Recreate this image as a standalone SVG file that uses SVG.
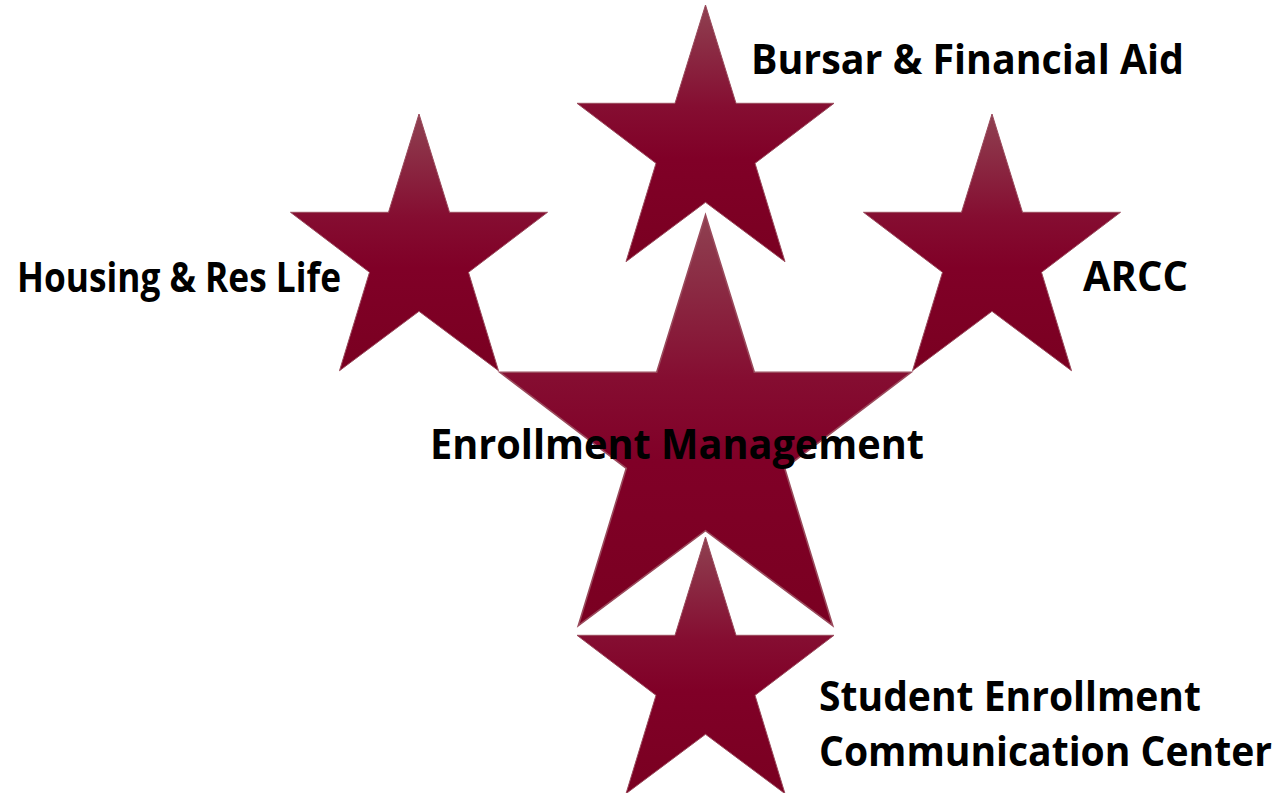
<svg xmlns="http://www.w3.org/2000/svg" xmlns:xlink="http://www.w3.org/1999/xlink" width="1284" height="793" viewBox="0 0 1284 793">
  <style>
    .star { fill: url(#starGrad); stroke: #9a4a5c; stroke-width: 1; vector-effect: non-scaling-stroke; }
    .lbl { font-family: "Open Sans", Lato, "Liberation Sans", sans-serif; font-weight: bold; font-size: 41px; fill: #000000; }
  </style>
  <defs>
    <linearGradient id="starGrad" x1="0" y1="0" x2="0" y2="1">
      <stop offset="0" stop-color="#8f4151"/>
      <stop offset="0.4" stop-color="#850d31"/>
      <stop offset="0.6" stop-color="#800027"/>
      <stop offset="1" stop-color="#7a0021"/>
    </linearGradient>
    <polygon id="starShape" points="0,0 30.5,98.3 128.5,98.3 49.5,158.3 79.5,256.7 0,197.3 -79.5,256.7 -49.5,158.3 -128.5,98.3 -30.5,98.3"/>
  </defs>
  <rect width="1284" height="793" fill="#ffffff"/>
  <g id="connectors"/>
  <g id="node-bursar">
    <use xlink:href="#starShape" href="#starShape" class="star" transform="translate(705.5,5)"/>
    <text class="lbl" x="751" y="74" textLength="433" lengthAdjust="spacingAndGlyphs">Bursar &amp; Financial Aid</text>
  </g>
  <g id="node-housing">
    <use xlink:href="#starShape" href="#starShape" class="star" transform="translate(419,114)"/>
    <text class="lbl" x="17" y="292" textLength="324" lengthAdjust="spacingAndGlyphs">Housing &amp; Res Life</text>
  </g>
  <g id="node-arcc">
    <use xlink:href="#starShape" href="#starShape" class="star" transform="translate(992,114)"/>
    <text class="lbl" x="1083" y="291" textLength="105" lengthAdjust="spacingAndGlyphs">ARCC</text>
  </g>
  <g id="node-enrollment">
    <use xlink:href="#starShape" href="#starShape" class="star" transform="translate(705.5,215) scale(1.6)"/>
    <text class="lbl" x="430" y="459" textLength="494" lengthAdjust="spacingAndGlyphs">Enrollment Management</text>
  </g>
  <g id="node-secc">
    <use xlink:href="#starShape" href="#starShape" class="star" transform="translate(705.5,537)"/>
    <text class="lbl" x="819" y="711" textLength="382" lengthAdjust="spacingAndGlyphs">Student Enrollment</text>
    <text class="lbl" x="819" y="766" textLength="453" lengthAdjust="spacingAndGlyphs">Communication Center</text>
  </g>
</svg>
